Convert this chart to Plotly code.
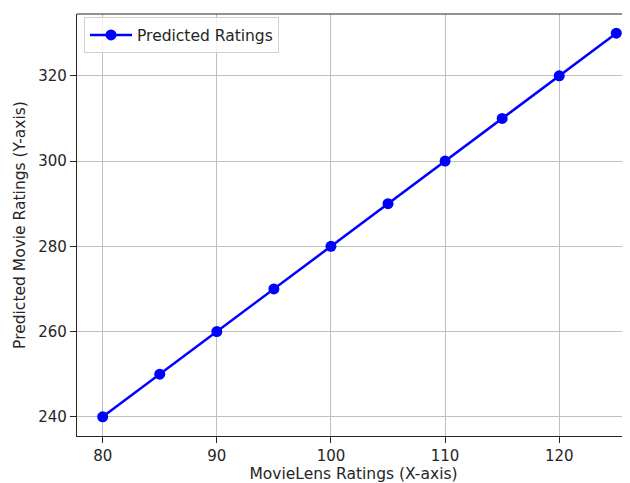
import plotly.graph_objects as go

movielens = [80, 85, 90, 95, 100, 105, 110, 115, 120, 125]
predicted = [240, 250, 260, 270, 280, 290, 300, 310, 320, 330]
x_ticks = [80, 90, 100, 110, 120]
y_ticks = [240, 260, 280, 300, 320]

fig = go.Figure()
fig.add_trace(go.Scatter(
    x=movielens, y=predicted, mode="lines+markers", name="Predicted Ratings",
    line=dict(color="#0000ff", width=2.5),
    marker=dict(color="#0000ff", size=11),
))

font = dict(family="DejaVu Sans", size=15.5, color="#262626")
tfont = dict(family="DejaVu Sans", size=15, color="#262626")
axis_common = dict(
    showgrid=True, gridcolor="#c0c0c0", gridwidth=1,
    showline=True, linecolor="#262626", linewidth=1.2,
    ticks="outside", ticklen=6, tickcolor="#262626", tickwidth=1,
    zeroline=False, tickfont=tfont, automargin=False,
)
fig.update_layout(
    width=630, height=483,
    margin=dict(l=69, r=8, t=6, b=55),
    paper_bgcolor="white", plot_bgcolor="white",
    font=font,
    showlegend=True,
    legend=dict(x=0.0127, y=0.992, xanchor="left", yanchor="top",
                bgcolor="rgba(255,255,255,0.8)", bordercolor="#d0d0d0", borderwidth=1,
                itemwidth=42, font=font),
    xaxis=dict(range=[77.75, 126.2], tickvals=x_ticks,
               title=dict(text="MovieLens Ratings (X-axis)", font=font, standoff=2),
               **axis_common),
    yaxis=dict(range=[235.5, 334.5], tickvals=y_ticks,
               title=dict(text="Predicted Movie Ratings (Y-axis)", font=font, standoff=8),
               **axis_common),
    shapes=[dict(type="line", xref="paper", yref="paper", x0=0, x1=1, y0=1, y1=1,
                 line=dict(color="#262626", width=1.2))],
)
fig.write_html("out.html")
